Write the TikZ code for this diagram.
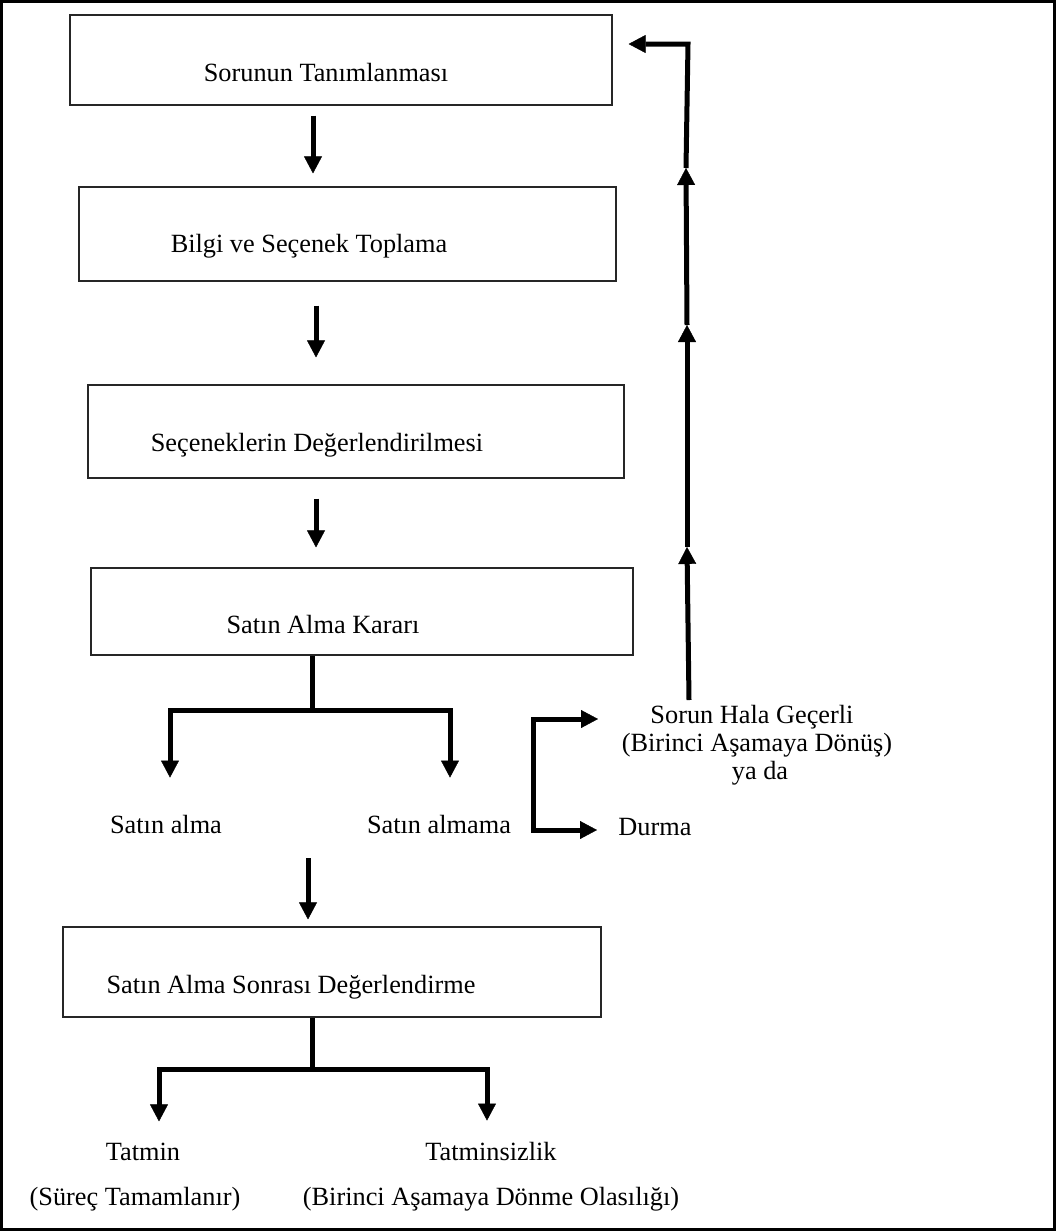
\documentclass[tikz,border=0pt]{standalone}
\usepackage{fontspec}
\setmainfont{Liberation Serif}
\usetikzlibrary{arrows.meta}
\begin{document}
\begin{tikzpicture}[x=1pt,y=-1pt,
  box/.style={draw=black!85, line width=1.2pt, inner sep=0pt},
  txt/.style={inner sep=0pt, anchor=base, font=\fontsize{26.3}{30}\selectfont},
  conn/.style={line width=5pt, line join=miter},
  tip/.tip={Triangle[length=17pt,width=18pt,line width=0.4pt]},
  arr/.style={conn, -tip},
]
\useasboundingbox (0,0) rectangle (1056,1232);
\draw[line width=3pt] (1.5,1.5) rectangle (1054.5,1229);

% boxes
\node[box, minimum width=542pt, minimum height=90pt] (b1) at (341,60) {};
\node[box, minimum width=537pt, minimum height=94pt] (b2) at (347.5,234) {};
\node[box, minimum width=536pt, minimum height=93pt] (b3) at (356,431.5) {};
\node[box, minimum width=542pt, minimum height=87pt] (b4) at (362,611.5) {};
\node[box, minimum width=538pt, minimum height=90pt] (b5) at (332,972) {};

% box texts
\node[txt] (t1) at (326,81) {Sorunun Tanımlanması};
\node[txt] (t2) at (309,252) {Bilgi ve Seçenek Toplama};
\node[txt] (t3) at (317,451) {Seçeneklerin Değerlendirilmesi};
\node[txt] (t4) at (323,633) {Satın Alma Kararı};
\node[txt] (t5) at (291,993) {Satın Alma Sonrası Değerlendirme};

% free labels
\node[txt] (la) at (166,833) {Satın alma};
\node[txt] (lb) at (439,833) {Satın almama};
\node[txt] (rt1) at (752,723) {Sorun Hala Geçerli};
\node[txt] (rt2) at (757,751) {(Birinci Aşamaya Dönüş)};
\node[txt] (rt3) at (760,779) {ya da};
\node[txt] (du) at (655,835) {Durma};
\node[txt] (ta) at (143,1160) {Tatmin};
\node[txt] (tb) at (135,1205) {(Süreç Tamamlanır)};
\node[txt] (tc) at (491,1160) {Tatminsizlik};
\node[txt] (td) at (491,1205) {(Birinci Aşamaya Dönme Olasılığı)};

% coordinates
\coordinate (x1) at (313,0);
\coordinate (x2) at (316,0);
\coordinate (x4) at (312,0);
\coordinate (j4) at (312,710);
\coordinate (jl) at (170,710);
\coordinate (jr) at (450,710);
\coordinate (a5s) at (308,858);
\coordinate (j5) at (312,1069);
\coordinate (j5l) at (159,1069);
\coordinate (j5r) at (487,1069);
\coordinate (f0) at (689,700);
\coordinate (f1) at (687,547);
\coordinate (f2) at (687,325);
\coordinate (f3) at (686,168);
\coordinate (f4) at (688,44);
\coordinate (br0) at (533,719);
\coordinate (br1) at (598,719);
\coordinate (br2) at (533,830);
\coordinate (br3) at (597,830);

% main arrows
\draw[arr, shorten <=10pt, shorten >=13pt] (b1.south -| x1) -- (b2.north -| x1);
\draw[arr, shorten <=24pt, shorten >=27pt] (b2.south -| x2) -- (b3.north -| x2);
\draw[arr, shorten <=20pt, shorten >=20pt] (b3.south -| x2) -- (b4.north -| x2);

% decision split
\draw[conn] (b4.south -| x4) -- (j4);
\draw[arr, shorten >=37pt] (j4) -- (jl) -- (la.north -| jl);
\draw[arr, shorten >=37pt] (j4) -- (jr) -- (lb.north -| jr);

% bracket
\draw[conn, tip-tip] (br1) -- (br0) -- (br2) -- (br3);

% to post-purchase
\draw[arr, shorten >=7pt] (a5s) -- (b5.north -| a5s);

% post-purchase split
\draw[conn] (b5.south -| x4) -- (j5);
\draw[arr, shorten >=21pt] (j5) -- (j5l) -- (ta.north -| j5l);
\draw[arr, shorten >=21pt] (j5) -- (j5r) -- (tc.north -| j5r);

% feedback
\draw[arr] (f0) -- (f1);
\draw[arr] (f1) -- (f2);
\draw[arr] (f2) -- (f3);
\draw[arr, shorten >=16pt] (f3) -- (f4) -- (b1.east |- f4);
\end{tikzpicture}
\end{document}
